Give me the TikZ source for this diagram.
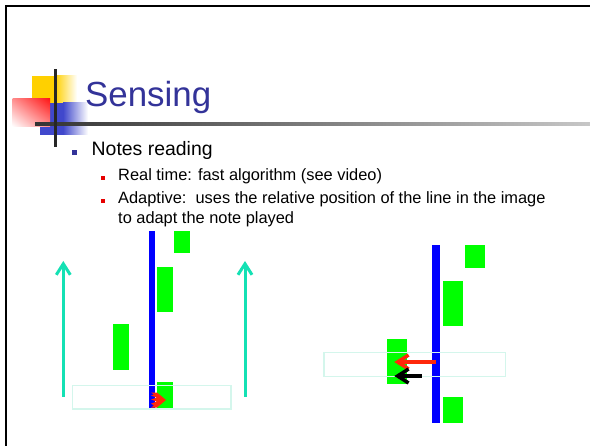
\documentclass[tikz,border=0pt]{standalone}
\usepackage{fontspec}
\setmainfont{Liberation Sans}
\usetikzlibrary{arrows.meta,shadings}

\definecolor{titleblue}{RGB}{51,51,153}
\definecolor{notegreen}{RGB}{0,255,0}
\definecolor{staffblue}{RGB}{0,0,255}
\definecolor{risecyan}{RGB}{20,225,180}
\definecolor{framecyan}{RGB}{212,246,236}
\definecolor{arrowred}{RGB}{255,40,10}
\definecolor{logoyellow}{RGB}{255,208,0}
\definecolor{logoblue}{RGB}{64,72,204}
\definecolor{logored}{RGB}{255,20,20}
\definecolor{logopink}{RGB}{255,140,140}
\definecolor{bulletred}{RGB}{230,0,0}

\tikzset{
  slidetext/.style={anchor=base west, inner sep=0pt, text=black},
  levelone/.style={slidetext, font=\fontsize{19.5}{23}\selectfont},
  leveltwo/.style={slidetext, font=\fontsize{16.45}{20}\selectfont},
  bulletone/.style={fill=titleblue, minimum size=5.5bp, inner sep=0pt},
  bullettwo/.style={fill=bulletred, minimum size=4.5bp, inner sep=0pt},
  note/.style={fill=notegreen},
  staff/.style={fill=staffblue},
  window/.style={draw=framecyan, line width=1.2bp},
  risearrow/.style={draw=risecyan, line width=3bp,
    -{Straight Barb[length=11bp,width=14bp]}},
  shiftarrow/.style={line width=3.5bp,
    -{Straight Barb[length=11bp,width=14bp]}}
}

\begin{document}
\begin{tikzpicture}[x=1bp,y=-1bp]
\useasboundingbox (0,0) rectangle (590,446);
\fill[white] (0,0) rectangle (590,446);

% slide frame
\draw[line width=2.3bp, line join=miter] (6,446) -- (6,6) -- (590,6);

% title decoration
\fill[logoyellow] (32,76) rectangle (55,118);
\shade[left color=logoyellow, right color=white] (55,76) rectangle (77,118);
\fill[logoblue] (40,102.7) rectangle (63,135);
\shade[left color=logoblue, right color=white] (63,102.7) rectangle (88,135);
\shade[upper right=logored, upper left=logopink, lower right=logopink,
       lower left=white] (12.7,98.3) rectangle (50,126.7);
\shade[left color=black!80, right color=black!22] (35,122.3) rectangle (590,126);
\fill[black!85] (53.5,69) rectangle (56.5,147.3);

% title
\node[anchor=base west, inner sep=0pt, text=titleblue,
      font=\fontsize{35}{42}\selectfont] (title) at (85,106.7) {Sensing};

% bullet list
\node[bulletone] (b1) at (74.5,152.5) {};
\node[levelone] (t1) at (91.5,155.7) {Notes reading};
\node[bullettwo] (b2) at (103,178) {};
\node[leveltwo] (t2) at (118,181) {Real time: fast algorithm (see video)};
\node[bullettwo] (b3) at (103,201) {};
\node[leveltwo] (t3) at (118,203.3) {Adaptive:\ \ uses the relative position of the line in the image};
\node[leveltwo] (t4) at (118,223.3) {to adapt the note played};

% left sketch: notes scrolling upward past the reading line
\coordinate (la0) at (63.3,396.7);
\coordinate (la1) at (63.3,261);
\coordinate (ra0) at (245,396.7);
\coordinate (ra1) at (245,261);
\draw[risearrow] (la0) -- (la1);
\draw[risearrow] (ra0) -- (ra1);

\fill[staff] (149,231) rectangle (155.3,408.3);
\fill[note] (174.3,231) rectangle (190.3,253.3);
\fill[note] (156.7,266.7) rectangle (172.7,312.3);
\fill[note] (113.3,324.3) rectangle (129.3,370.3);
\fill[note] (156.7,382.3) rectangle (172.7,408.3);
\draw[window] (72.3,385.3) rectangle (231,409);

% striped pointer at the reading line
\fill[arrowred] (151,392.5) -- (157,392.5) -- (166,400) -- (157,407.5)
  -- (151,407.5) -- (154,405.5) -- (151,403.5) -- (157,401.5) -- (151,399.5)
  -- (157,397.5) -- (151,395.5) -- (154,394.5) -- cycle;

% right sketch: reading window shifted to the line position
\fill[staff] (432,245) rectangle (440,422.7);
\fill[note] (465,245) rectangle (485.3,267.7);
\fill[note] (442.7,280.7) rectangle (462.7,325.7);
\fill[note] (386.7,339) rectangle (406.7,384);
\fill[note] (442.7,397.3) rectangle (462.7,422.7);
\draw[window] (324,352.3) rectangle (505.7,376.3);

\coordinate (rs0) at (436,362);
\coordinate (rs1) at (394.3,362);
\coordinate (ks0) at (421.7,376);
\coordinate (ks1) at (394.3,376);
\draw[shiftarrow, draw=arrowred] (rs0) -- (rs1);
\draw[shiftarrow, draw=black] (ks0) -- (ks1);
\end{tikzpicture}
\end{document}
